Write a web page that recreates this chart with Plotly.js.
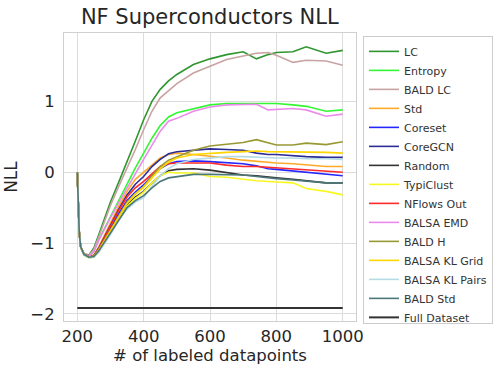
<!DOCTYPE html>
<html>
<head>
<meta charset="utf-8">
<script src="https://cdn.plot.ly/plotly-3.0.1.min.js"></script>
<style>html,body{margin:0;padding:0;background:#fff;}#chart{width:496px;height:365px;}</style>
</head>
<body>
<div id="chart"></div>
<script>
// x positions (# of labeled datapoints) at which values were read
const xs = [200,203,206,210,220,235,250,265,280,300,325,350,375,400,425,450,475,500,550,600,650,700,740,775,800,850,890,950,1000];

const seriesNames = ["LC","Entropy","BALD LC","Std","Coreset","CoreGCN","Random","TypiClust","NFlows Out","BALSA EMD","BALD H","BALSA KL Grid","BALSA KL Pairs","BALD Std"];

const lc        = [0,-0.45,-0.85,-1.05,-1.15,-1.17,-1.07,-0.88,-0.69,-0.42,-0.14,0.14,0.44,0.74,1.00,1.17,1.29,1.38,1.52,1.60,1.66,1.70,1.60,1.66,1.69,1.70,1.77,1.68,1.72];
const entropy   = [0,-0.45,-0.85,-1.05,-1.16,-1.19,-1.12,-0.95,-0.81,-0.62,-0.40,-0.17,0.06,0.27,0.48,0.66,0.78,0.84,0.90,0.95,0.97,0.97,0.96,0.97,0.97,0.95,0.93,0.86,0.88];
const baldLc    = [0,-0.45,-0.85,-1.05,-1.15,-1.18,-1.09,-0.91,-0.73,-0.47,-0.20,0.05,0.32,0.60,0.86,1.05,1.15,1.25,1.40,1.50,1.59,1.64,1.68,1.69,1.65,1.55,1.58,1.57,1.51];
const std       = [0,-0.45,-0.85,-1.05,-1.16,-1.19,-1.17,-1.05,-0.90,-0.72,-0.48,-0.27,-0.10,0.00,0.10,0.20,0.25,0.27,0.25,0.23,0.20,0.17,0.15,0.14,0.13,0.12,0.10,0.08,0.08];
const coreset   = [0,-0.45,-0.85,-1.05,-1.16,-1.19,-1.18,-1.08,-0.95,-0.78,-0.58,-0.40,-0.28,-0.18,-0.05,0.05,0.12,0.15,0.16,0.15,0.13,0.12,0.09,0.05,0.04,0.02,0.00,-0.03,-0.05];
const coreGcn   = [0,-0.45,-0.85,-1.05,-1.16,-1.19,-1.18,-1.07,-0.93,-0.75,-0.52,-0.32,-0.17,-0.06,0.08,0.18,0.26,0.29,0.31,0.33,0.32,0.31,0.27,0.25,0.25,0.23,0.22,0.21,0.21];
const random    = [0,-0.45,-0.85,-1.05,-1.16,-1.20,-1.19,-1.10,-0.98,-0.82,-0.63,-0.46,-0.35,-0.27,-0.15,-0.05,0.02,0.04,0.05,0.03,-0.01,-0.04,-0.05,-0.07,-0.08,-0.10,-0.12,-0.15,-0.15];
const typiClust = [0,-0.45,-0.85,-1.05,-1.17,-1.21,-1.20,-1.12,-1.01,-0.86,-0.66,-0.48,-0.37,-0.28,-0.15,-0.05,0.00,-0.01,-0.01,-0.06,-0.07,-0.10,-0.12,-0.13,-0.14,-0.15,-0.23,-0.27,-0.32];
const nflowsOut = [0,-0.45,-0.85,-1.05,-1.16,-1.19,-1.18,-1.08,-0.95,-0.76,-0.54,-0.35,-0.22,-0.13,-0.02,0.08,0.12,0.13,0.13,0.13,0.10,0.08,0.08,0.07,0.06,0.04,0.03,0.01,0.00];
const balsaEmd  = [0,-0.45,-0.85,-1.05,-1.16,-1.19,-1.12,-0.96,-0.82,-0.64,-0.43,-0.22,-0.02,0.18,0.38,0.58,0.72,0.76,0.86,0.92,0.95,0.95,0.96,0.88,0.89,0.90,0.88,0.79,0.82];
const baldH     = [0,-0.45,-0.85,-1.05,-1.16,-1.20,-1.18,-1.09,-0.97,-0.80,-0.60,-0.42,-0.30,-0.20,-0.05,0.08,0.17,0.22,0.31,0.37,0.39,0.42,0.46,0.41,0.385,0.385,0.41,0.39,0.43];
const klGrid    = [0,-0.45,-0.85,-1.05,-1.16,-1.20,-1.19,-1.10,-0.98,-0.82,-0.62,-0.44,-0.31,-0.21,-0.08,0.05,0.14,0.20,0.25,0.27,0.28,0.29,0.30,0.29,0.29,0.29,0.28,0.28,0.27];
const klPairs   = [0,-0.45,-0.85,-1.05,-1.17,-1.21,-1.20,-1.13,-1.03,-0.88,-0.68,-0.52,-0.42,-0.36,-0.20,-0.05,0.05,0.12,0.18,0.20,0.22,0.22,0.21,0.21,0.20,0.20,0.19,0.19,0.18];
const baldStd   = [0,-0.45,-0.85,-1.05,-1.16,-1.20,-1.19,-1.11,-1.00,-0.85,-0.67,-0.50,-0.40,-0.33,-0.22,-0.13,-0.08,-0.06,-0.03,-0.03,-0.04,-0.04,-0.06,-0.08,-0.09,-0.11,-0.13,-0.15,-0.15];

const fullX = [200, 1000];
const fullY = [-1.915, -1.915];

const xTicks = [200, 400, 600, 800, 1000];
const yTicks = [-2, -1, 0, 1];

const seriesValues = [lc, entropy, baldLc, std, coreset, coreGcn, random, typiClust, nflowsOut, balsaEmd, baldH, klGrid, klPairs, baldStd];
const seriesColors = ["#2f952f","#33f733","#c9a3a3","#ffa928","#2626ff","#2d2d96","#333333","#f8f820","#ff2a2a","#ec8aec","#999933","#ffd600","#b4dbe6","#4d7777"];

const traces = seriesNames.map((n, i) => ({
  type: "scatter", mode: "lines", name: n, x: xs, y: seriesValues[i],
  line: {color: seriesColors[i], width: 1.6}
}));
traces.push({type: "scatter", mode: "lines", name: "Full Dataset", x: fullX, y: fullY,
  line: {color: "#333333", width: 2}});

const txt = "#262626";
const layout = {
  width: 496, height: 365,
  paper_bgcolor: "#fff", plot_bgcolor: "#fff",
  font: {family: "DejaVu Sans", color: txt},
  margin: {l: 64, r: 140, t: 33, b: 44, autoexpand: false},
  title: {text: "NF Superconductors NLL", font: {size: 21, color: txt}, x: 0.423, xanchor: "center", y: 0.955, yanchor: "middle"},
  xaxis: {
    range: [160, 1040], tickvals: xTicks, ticks: "", showgrid: true, gridcolor: "#dcdcdc", gridwidth: 1,
    zeroline: false, showline: true, mirror: true, linecolor: "#d0d0d0", linewidth: 1,
    tickfont: {size: 16.5, color: txt}, ticklabelstandoff: 0,
    title: {text: "# of labeled datapoints", font: {size: 16.5, color: txt}, standoff: 6}
  },
  yaxis: {
    range: [-2.1, 1.965], tickvals: yTicks, ticks: "", showgrid: true, gridcolor: "#dcdcdc", gridwidth: 1,
    zeroline: false, showline: true, mirror: true, linecolor: "#d0d0d0", linewidth: 1,
    tickfont: {size: 16.5, color: txt}, ticklabelstandoff: 5,
    title: {text: "NLL", font: {size: 17, color: txt}, standoff: 8}
  },
  showlegend: true,
  legend: {x: 1.024, xanchor: "left", y: 0.99, yanchor: "top", bgcolor: "#fff",
    bordercolor: "#cccccc", borderwidth: 1, font: {size: 11, color: "#333333"}, tracegroupgap: 0}
};
Plotly.newPlot("chart", traces, layout, {displayModeBar: false, staticPlot: true});
</script>
</body>
</html>
